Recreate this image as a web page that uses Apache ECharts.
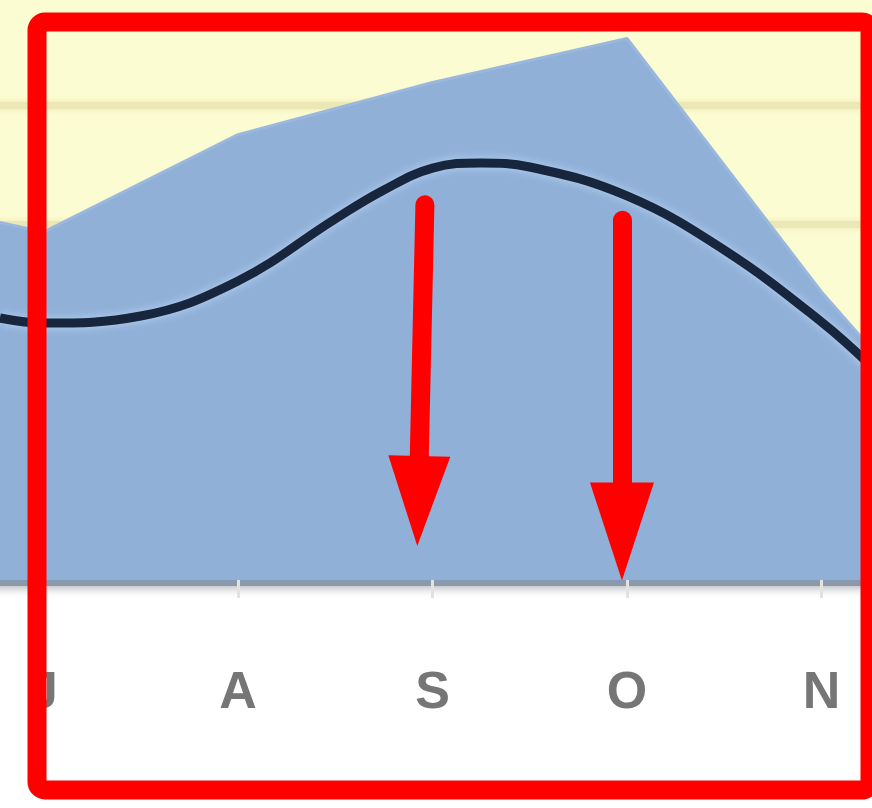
<!DOCTYPE html>
<html>
<head>
<meta charset="utf-8">
<script src="https://cdn.jsdelivr.net/npm/echarts@6/dist/echarts.min.js"></script>
<style>
  html, body { margin: 0; padding: 0; background: #ffffff; }
  #chart { width: 872px; height: 808px; }
</style>
</head>
<body>
<div id="chart"></div>
<script>
// Month positions on the x axis (6 = June ... 12 = December)
const monthTicks = [6, 7, 8, 9, 10, 11, 12];
const monthLabels = ['J', 'J', 'A', 'S', 'O', 'N', 'D'];

// Blue area series (x in months, value)
const areaX = [6.776, 7, 8, 9, 10, 11, 11.26];
const areaValues = [30.1, 29.3, 37.5, 41.9, 45.6, 24.25, 19.4];

// Dark smoothed line series
const lineX = [6.776, 7, 7.5, 8, 8.5, 8.75, 9, 9.25, 9.5, 10, 10.5, 11, 11.26];
const lineValues = [22.06, 21.64, 22.23, 25.18, 30.4, 32.84, 34.69, 35.12, 34.78, 32.34, 27.79, 21.73, 17.94];

// Red annotation arrows: [fromX, fromY, toX, toY] in data units
const arrow1 = [8.961, 31.6, 8.927, 6.65];
const arrow2 = [9.974, 30.3, 9.974, 4.08];

const chart = echarts.init(document.getElementById('chart'), null, { renderer: 'canvas' });

function pairs(xs, ys) { return xs.map((x, i) => [x, ys[i]]); }

const option = {
  animation: false,
  backgroundColor: '#ffffff',
  grid: {
    left: -151, right: -144, top: -13.75, bottom: 228,
    outerBoundsMode: 'none', containLabel: false,
    show: true, backgroundColor: '#fcfcd2', borderWidth: 0
  },
  xAxis: {
    type: 'value', min: 6, max: 12, interval: 1,
    splitLine: { show: false },
    axisLine: { show: true, lineStyle: { color: '#8a99ae', width: 11, shadowColor: 'rgba(90,100,120,0.4)', shadowBlur: 8, shadowOffsetY: 3 } },
    axisTick: { show: true, length: 18, lineStyle: { color: '#e2e2e2', width: 3 } },
    axisLabel: {
      show: true, margin: 88, fontSize: 52, fontWeight: 'bold', color: '#767676',
      fontFamily: 'Liberation Sans, Arial, sans-serif',
      formatter: function (v) {
        const i = monthTicks.indexOf(Math.round(v));
        return i >= 0 ? monthLabels[i] : '';
      }
    }
  },
  yAxis: {
    type: 'value', min: 0, max: 50, interval: 10,
    axisLine: { show: false }, axisTick: { show: false }, axisLabel: { show: false },
    splitLine: { show: true, lineStyle: { color: '#ece8b6', width: 7, shadowColor: '#ece8b6', shadowBlur: 6 } }
  },
  series: [
    {
      type: 'line',
      data: pairs(areaX, areaValues),
      showSymbol: false,
      lineStyle: { color: '#9ab8de', width: 3 },
      areaStyle: { color: '#90b0d8', opacity: 1 },
      z: 2,
      silent: true,
      markLine: {
        silent: true,
        symbol: ['none', 'triangle'],
        lineStyle: { color: '#ff0000', width: 19, type: 'solid', cap: 'round' },
        label: { show: false },
        emphasis: { disabled: true },
        data: [
          [ { coord: [arrow1[0], arrow1[1]] }, { coord: [arrow1[2], arrow1[3]], symbolSize: [62, 90] } ],
          [ { coord: [arrow2[0], arrow2[1]] }, { coord: [arrow2[2], arrow2[3]], symbolSize: [64, 98] } ]
        ]
      }
    },
    {
      type: 'line',
      data: pairs(lineX, lineValues),
      smooth: 0.4,
      showSymbol: false,
      silent: true,
      z: 3,
      lineStyle: { color: '#17263c', width: 9, shadowColor: 'rgba(190,215,245,0.9)', shadowBlur: 10 }
    }
  ],
  graphic: [
    {
      type: 'rect', z: 100, silent: true,
      shape: { x: 37, y: 22, width: 833, height: 768, r: 8 },
      style: { fill: 'transparent', stroke: '#ff0000', lineWidth: 19 }
    }
  ]
};
chart.setOption(option);
</script>
</body>
</html>
